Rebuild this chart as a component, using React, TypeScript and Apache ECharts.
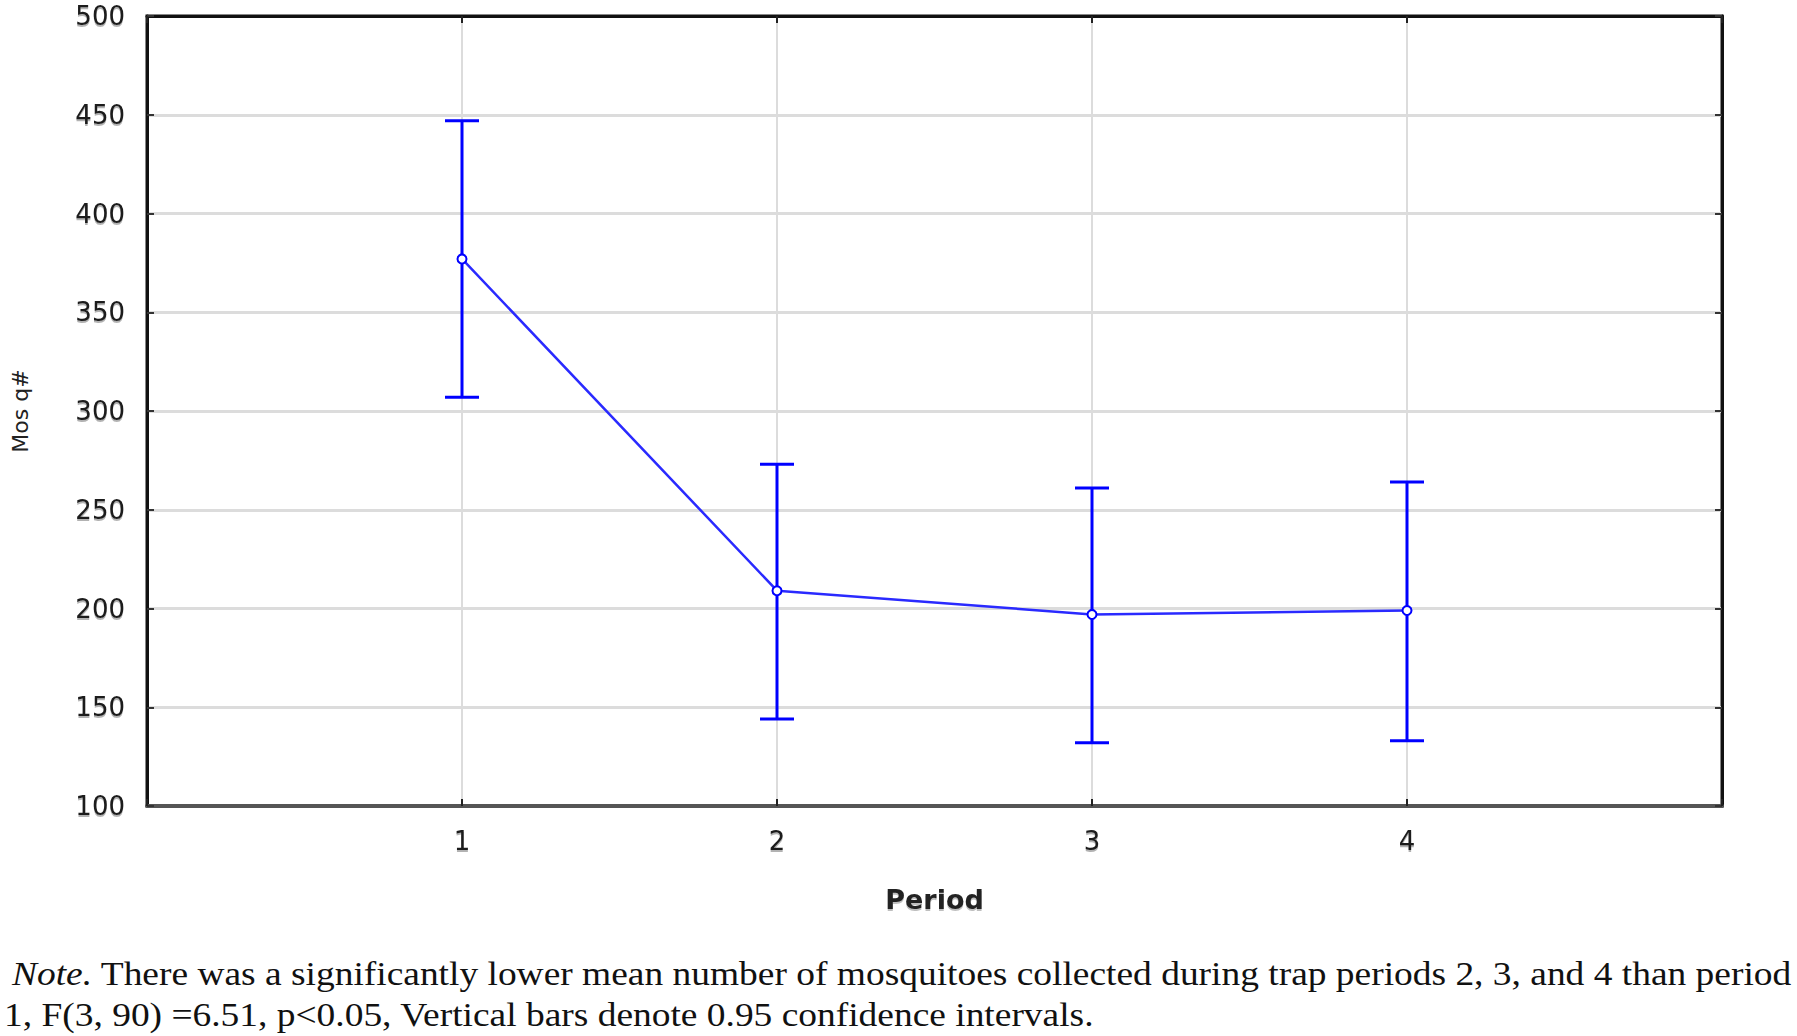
import React, { useEffect, useRef } from "react";
import * as echarts from "echarts";

const periods = [1, 2, 3, 4];
const means = [377, 209, 197, 199];
const upper = [447, 273, 261, 264];
const lower = [307, 144, 132, 133];
const yTicks = { min: 100, max: 500, step: 50 };
const xRange = { min: 0, max: 5, step: 1 };
const yName = "Mos q#";
const xName = "Period";
const noteItalic = "Note.";
const noteLine1 = " There was a significantly lower mean number of mosquitoes collected during trap periods 2, 3, and 4 than period";
const noteLine2 = "1, F(3, 90) =6.51, p<0.05, Vertical bars denote 0.95 confidence intervals.";

const BLUE = "#0000ff";
const LINE_BLUE = "#2a2aff";
const TICK_FONT = "DejaVu Sans, Verdana, sans-serif";
const SERIF = "Liberation Serif, Times New Roman, serif";

export default function App() {
  const ref = useRef<HTMLDivElement>(null);
  useEffect(() => {
    document.body.style.margin = "0";
    const chart = echarts.init(ref.current!, null, { renderer: "svg" });
    const labelStyle = {
      fontFamily: TICK_FONT,
      fontSize: 26,
      color: "#1a1a1a",
      textShadowColor: "rgba(0,0,0,0.3)",
      textShadowOffsetY: 2,
      textShadowBlur: 1,
    };
    const errData = periods.map((p, i) => [p, lower[i], upper[i]]);
    const option: any = {
      animation: false,
      backgroundColor: "#fff",
      grid: {
        left: 147,
        top: 16,
        right: 75,
        bottom: 230,
        show: true,
        borderColor: "#111",
        borderWidth: 3,
        backgroundColor: "#fff",
        z: 0,
      },
      xAxis: [
        {
          type: "value",
          position: "bottom",
          min: xRange.min,
          max: xRange.max,
          interval: xRange.step,
          axisLine: { show: true, onZero: false, lineStyle: { color: "#555", width: 4 } },
          axisTick: { show: true, inside: true, length: 7, lineStyle: { color: "#222", width: 2 } },
          axisLabel: {
            ...labelStyle,
            margin: 22,
            formatter: (v: number) => (periods.includes(v) ? String(v) : ""),
          },
          splitLine: { show: true, showMinLine: false, showMaxLine: false, lineStyle: { color: "#dcdcdc", width: 2 } },
          name: xName,
          nameLocation: "middle",
          nameGap: 80,
          nameTextStyle: {
            fontFamily: TICK_FONT,
            fontSize: 27,
            fontWeight: "bold",
            color: "#222",
            textShadowColor: "rgba(0,0,0,0.25)",
            textShadowOffsetY: 2,
            textShadowBlur: 1,
          },
        },
        {
          type: "value",
          position: "top",
          min: xRange.min,
          max: xRange.max,
          interval: xRange.step,
          axisLine: { show: true, onZero: false, lineStyle: { color: "#111", width: 3 } },
          axisTick: { show: true, inside: true, length: 7, lineStyle: { color: "#222", width: 2 } },
          axisLabel: { show: false },
          splitLine: { show: false },
        },
      ],
      yAxis: [
        {
          type: "value",
          position: "left",
          min: yTicks.min,
          max: yTicks.max,
          interval: yTicks.step,
          axisLine: { show: true, onZero: false, lineStyle: { color: "#111", width: 3 } },
          axisTick: { show: true, inside: true, length: 7, lineStyle: { color: "#333", width: 2 } },
          axisLabel: { ...labelStyle, margin: 22 },
          splitLine: { show: true, showMinLine: false, showMaxLine: false, lineStyle: { color: "#dcdcdc", width: 3 } },
          name: yName,
          nameLocation: "middle",
          nameGap: 116,
          nameRotate: 90,
          nameTextStyle: {
            fontFamily: TICK_FONT,
            fontSize: 22,
            color: "#222",
          },
        },
        {
          type: "value",
          position: "right",
          min: yTicks.min,
          max: yTicks.max,
          interval: yTicks.step,
          axisLine: { show: true, onZero: false, lineStyle: { color: "#111", width: 3 } },
          axisTick: { show: true, inside: true, length: 7, lineStyle: { color: "#333", width: 2 } },
          axisLabel: { show: false },
          splitLine: { show: false },
        },
      ],
      series: [
        {
          type: "custom",
          xAxisIndex: 0,
          yAxisIndex: 0,
          data: errData,
          z: 3,
          renderItem: (params: any, api: any) => {
            const x = api.value(0);
            const top = api.coord([x, api.value(2)]);
            const bot = api.coord([x, api.value(1)]);
            const hw = 17;
            const style = { stroke: BLUE, lineWidth: 3 };
            return {
              type: "group",
              children: [
                { type: "line", shape: { x1: top[0], y1: top[1], x2: bot[0], y2: bot[1] }, style },
                { type: "line", shape: { x1: top[0] - hw, y1: top[1], x2: top[0] + hw, y2: top[1] }, style },
                { type: "line", shape: { x1: bot[0] - hw, y1: bot[1], x2: bot[0] + hw, y2: bot[1] }, style },
              ],
            };
          },
        },
        {
          type: "line",
          xAxisIndex: 0,
          yAxisIndex: 0,
          data: periods.map((p, i) => [p, means[i]]),
          symbol: "emptyCircle",
          symbolSize: 9,
          lineStyle: { color: LINE_BLUE, width: 2.5 },
          itemStyle: { color: BLUE, borderColor: BLUE, borderWidth: 2 },
          z: 4,
        },
      ],
      graphic: [
        {
          type: "text",
          x: 12,
          y: 958,
          scaleX: 1.135,
          style: {
            text: "{i|" + noteItalic + "}" + noteLine1,
            fontFamily: SERIF,
            fontSize: 33,
            fill: "#111",
            rich: {
              i: { fontStyle: "italic", fontFamily: SERIF, fontSize: 33, fill: "#111" },
            },
          },
        },
        {
          type: "text",
          x: 4,
          y: 999,
          scaleX: 1.135,
          style: {
            text: noteLine2,
            fontFamily: SERIF,
            fontSize: 33,
            fill: "#111",
          },
        },
      ],
    };
    chart.setOption(option);
    return () => chart.dispose();
  }, []);
  return <div ref={ref} style={{ width: 1797, height: 1036 }} />;
}
